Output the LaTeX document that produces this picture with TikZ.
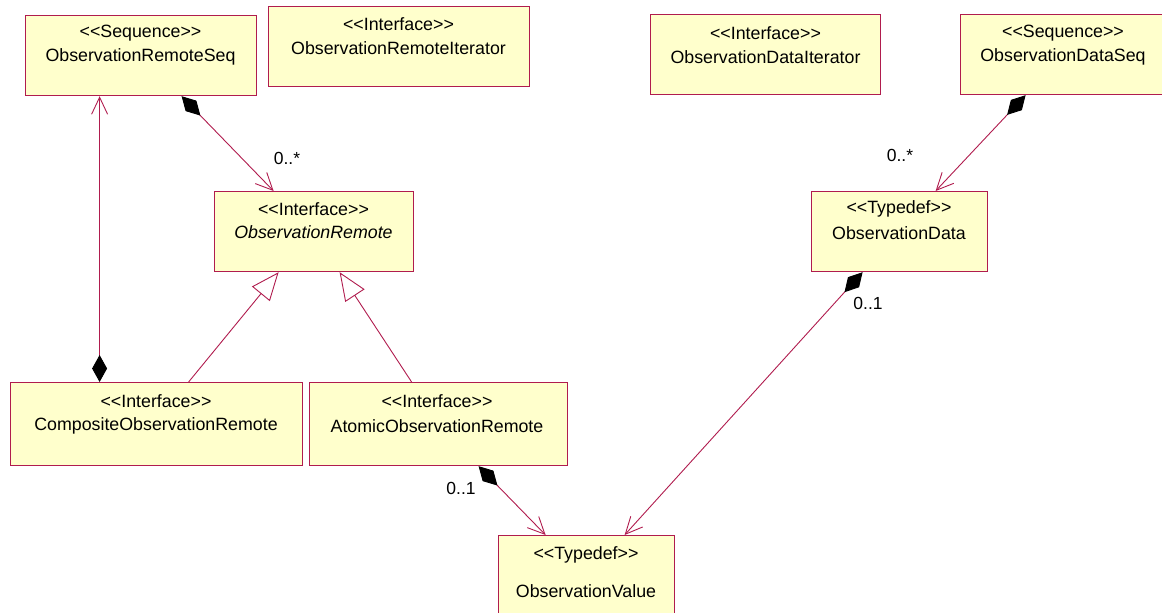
\documentclass[tikz,border=0pt]{standalone}
\usepackage{fontspec}
\setmainfont{Liberation Sans}[Ligatures=TeXOff]
\usetikzlibrary{arrows.meta}
\definecolor{umlline}{RGB}{176,28,78}
\definecolor{umlfill}{RGB}{255,255,204}
\begin{document}
\begin{tikzpicture}[x=1pt,y=-1pt,
 umlbox/.style={draw=umlline, fill=umlfill, line width=1.2pt, rectangle, inner sep=0pt, anchor=north west},
 umltext/.style={font=\fontsize{17.8}{20}\selectfont, inner sep=0pt, anchor=center},
 mult/.style={font=\fontsize{17.5}{20}\selectfont, inner sep=0pt},
 conn/.style={draw=umlline, line width=0.9pt},
 comp/.style={conn, {Diamond[length=27pt,width=15pt,fill=black,color=black]}-{Straight Barb[length=17pt,width=16pt]}},
 gen/.style={conn, -{Triangle[open,length=28pt,width=23pt,fill=white]}}
]
\useasboundingbox (0,0) rectangle (1162,613);
% boxes
\node[umlbox, minimum width=231pt, minimum height=80pt] (ors) at (25,15) {};
\node[umlbox, minimum width=261pt, minimum height=80pt] (ori) at (268,6) {};
\node[umlbox, minimum width=199pt, minimum height=80pt] (or) at (214,191) {};
\node[umlbox, minimum width=292pt, minimum height=83pt] (cor) at (10,382) {};
\node[umlbox, minimum width=258pt, minimum height=83pt] (aor) at (309,382) {};
\node[umlbox, minimum width=176pt, minimum height=95pt] (ov) at (498,535) {};
\node[umlbox, minimum width=230pt, minimum height=80pt] (odi) at (650,14) {};
\node[umlbox, minimum width=210pt, minimum height=80pt] (ods) at (960,14) {};
\node[umlbox, minimum width=176pt, minimum height=80pt] (od) at (811,191) {};
% texts
\node[umltext] (ors-s) at (140.5,33) {<<Sequence>>};
\node[umltext] (ors-n) at (140.5,57) {ObservationRemoteSeq};
\node[umltext] (ori-s) at (398.5,24) {<<Interface>>};
\node[umltext] (ori-n) at (398.5,48) {ObservationRemoteIterator};
\node[umltext] (or-s) at (313.5,209) {<<Interface>>};
\node[umltext] (or-n) at (313.5,232) {\itshape ObservationRemote};
\node[umltext] (cor-s) at (156,401) {<<Interface>>};
\node[umltext] (cor-n) at (156,426) {CompositeObservationRemote};
\node[umltext] (aor-s) at (437,401) {<<Interface>>};
\node[umltext] (aor-n) at (437,426) {AtomicObservationRemote};
\node[umltext] (ov-s) at (586,555) {<<Typedef>>};
\node[umltext] (ov-n) at (586,591) {ObservationValue};
\node[umltext] (odi-s) at (765.5,33) {<<Interface>>};
\node[umltext] (odi-n) at (765.5,57) {ObservationDataIterator};
\node[umltext] (ods-s) at (1063,33) {<<Sequence>>};
\node[umltext] (ods-n) at (1063,57) {ObservationDataSeq};
\node[umltext] (od-s) at (899,209) {<<Typedef>>};
\node[umltext] (od-n) at (899,233) {ObservationData};
% multiplicities
\node[mult] (m1) at (287,158) {0..*};
\node[mult] (m2) at (900,155) {0..*};
\node[mult] (m3) at (868,303) {0..1};
\node[mult] (m4) at (461,488) {0..1};
% connectors
\draw[comp] ([xshift=40.5pt]ors.south) -- ([xshift=-40.5pt]or.north);
\draw[comp] ([xshift=-57pt]cor.north) -- ([xshift=-41.5pt]ors.south);
\draw[gen] ([xshift=32pt]cor.north) -- ([xshift=-35.5pt]or.south);
\draw[gen] ([xshift=-27pt]aor.north) -- ([xshift=25.5pt]or.south);
\draw[comp] ([xshift=40pt]aor.south) -- ([xshift=-41pt]ov.north);
\draw[comp] ([xshift=-37pt]od.south) -- ([xshift=38pt]ov.north);
\draw[comp] ([xshift=-40pt]ods.south) -- ([xshift=36pt]od.north);
\end{tikzpicture}
\end{document}
